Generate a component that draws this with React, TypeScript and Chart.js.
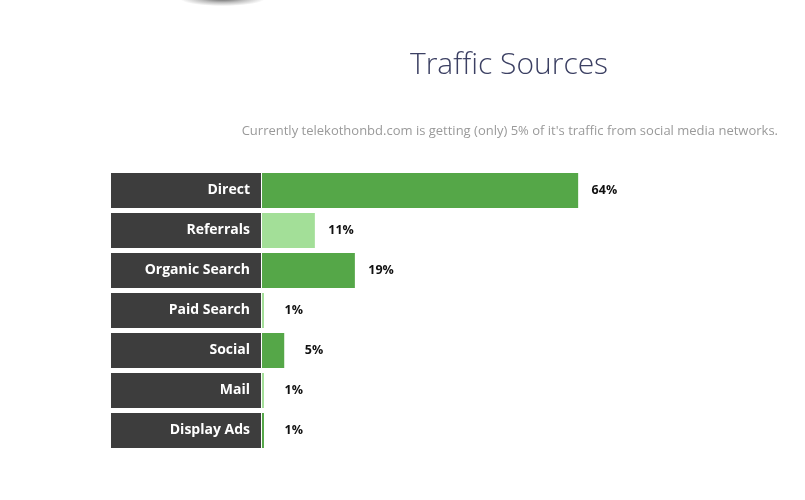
import React, { useEffect, useRef } from "react";
import { Chart, registerables } from "chart.js";

Chart.register(...registerables);

const categories = ["Direct", "Referrals", "Organic Search", "Paid Search", "Social", "Mail", "Display Ads"];
const shares = [64, 10.7, 18.8, 0.4, 4.5, 0.4, 0.4];
const valueLabels = ["64%", "11%", "19%", "1%", "5%", "1%", "1%"];

const TITLE = "Traffic Sources";
const SUBTITLE = "Currently telekothonbd.com is getting (only) 5% of it's traffic from social media networks.";

const DARK_GREEN = "#55a748";
const LIGHT_GREEN = "#a3df98";
const LABEL_BOX = "#3d3d3d";
const FONT = "'Open Sans', 'Noto Sans', sans-serif";

const decorPlugin = {
  id: "decor",
  beforeDraw(chart: any) {
    const { ctx, chartArea, scales } = chart;
    const y = scales.y;
    const meta = chart.getDatasetMeta(0);
    ctx.save();
    ctx.fillStyle = LABEL_BOX;
    meta.data.forEach((bar: any) => {
      const h = bar.height;
      ctx.fillRect(y.left, bar.y - h / 2, chartArea.left - 1 - y.left, h);
    });
    ctx.restore();
  },
  afterDraw(chart: any) {
    const { ctx } = chart;
    const meta = chart.getDatasetMeta(0);
    ctx.save();
    // value labels
    ctx.font = `bold 12.5px ${FONT}`;
    ctx.fillStyle = "#111";
    ctx.textAlign = "right";
    ctx.textBaseline = "middle";
    meta.data.forEach((bar: any, i: number) => {
      ctx.fillText(valueLabels[i], bar.x + 39, bar.y);
    });
    // title
    ctx.font = `300 30px ${FONT}`;
    ctx.fillStyle = "#3c4063";
    ctx.textAlign = "center";
    ctx.textBaseline = "alphabetic";
    ctx.fillText(TITLE, 509, 74);
    // subtitle
    ctx.font = `13px ${FONT}`;
    ctx.fillStyle = "#9a9a9a";
    ctx.textAlign = "right";
    ctx.fillText(SUBTITLE, 778, 135);
    ctx.restore();
  },
};

export default function App() {
  const ref = useRef<HTMLCanvasElement>(null);
  useEffect(() => {
    if (!ref.current) return;
    const chart = new Chart(ref.current, {
      type: "bar",
      data: {
        labels: categories,
        datasets: [
          {
            data: shares,
            backgroundColor: shares.map((_, i) => (i % 2 === 0 ? DARK_GREEN : LIGHT_GREEN)),
            borderWidth: 0,
            categoryPercentage: 1,
            barPercentage: 0.875,
          },
        ],
      },
      options: {
        indexAxis: "y",
        animation: false,
        responsive: false,
        maintainAspectRatio: false,
        events: [],
        layout: { padding: { left: 111, right: 49, top: 170.5, bottom: 49.5 } },
        plugins: { legend: { display: false }, tooltip: { enabled: false }, title: { display: false } },
        scales: {
          x: { display: false, min: 0, max: 100 },
          y: {
            display: true,
            border: { display: false },
            grid: { display: false, drawTicks: false },
            ticks: {
              color: "#ffffff",
              padding: 12,
              font: { family: FONT, size: 14, weight: "bold" },
            },
            afterFit(scale: any) {
              scale.width = 151;
            },
          },
        },
      },
      plugins: [decorPlugin],
    } as any);
    return () => chart.destroy();
  }, []);
  return (
    <div style={{ position: "fixed", left: 0, top: 0, width: 805, height: 500, background: "#fff", overflow: "hidden" }}>
      <div
        style={{
          position: "absolute",
          left: 180,
          top: -8,
          width: 85,
          height: 14,
          borderRadius: "50%",
          background:
            "radial-gradient(ellipse at 50% 45%, rgba(70,70,70,0.9) 0%, rgba(130,130,130,0.5) 40%, rgba(255,255,255,0) 72%)",
        }}
      />
      <canvas ref={ref} width={805} height={500} style={{ position: "absolute", left: 0, top: 0 }} />
    </div>
  );
}
